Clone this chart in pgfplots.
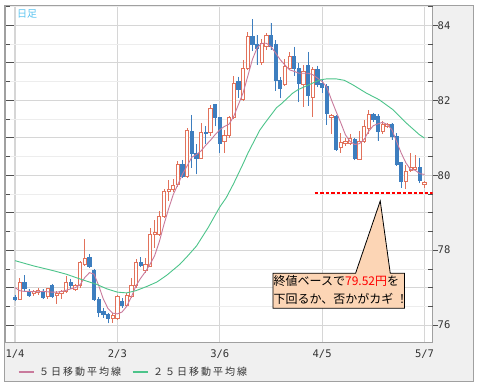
\documentclass[border=0pt]{standalone}
\usepackage{fontspec}
\usepackage{pgfplots}
\pgfplotsset{compat=1.18}
\usepgfplotslibrary{statistics}
\usetikzlibrary{calc}
\pgfdeclarelayer{background}
\pgfsetlayers{background,main}
\setmainfont{Noto Sans CJK JP}
\newfontfamily\tickfam{DejaVu Sans Mono}
\newfontfamily\legendfam[LetterSpace=20]{Noto Sans CJK JP}
\newcommand\tickfont{\tickfam\fontsize{10.5bp}{12bp}\selectfont}
\newcommand\legendfont{\legendfam\fontsize{10bp}{12bp}\selectfont}
\newcommand\calloutfont{\fontsize{12bp}{14bp}\selectfont}
\definecolor{upc}{HTML}{E2725B}
\definecolor{dnc}{HTML}{3D7EBF}
\definecolor{pinkc}{HTML}{C97A9C}
\definecolor{greenc}{HTML}{4CC48A}
\definecolor{panel}{HTML}{F0F0F0}
\definecolor{bordergray}{HTML}{A0A0A0}
\definecolor{gridmaj}{HTML}{D6D6D6}
\definecolor{gridmin}{HTML}{EDEDED}
\definecolor{tickgray}{HTML}{505050}
\definecolor{txt}{HTML}{333333}
\definecolor{peach}{HTML}{FCD5B5}
\definecolor{skyc}{HTML}{5CC4F0}
\definecolor{lvl}{HTML}{FF0000}
\pgfplotsset{
  upcandle/.style={forget plot, draw=upc, fill=white, line width=0.8bp, solid},
  downcandle/.style={forget plot, draw=dnc, fill=dnc, line width=0.8bp, solid},
}
% #1 index, #2 open, #3 high, #4 low, #5 close
\newcommand{\U}[5]{\addplot[upcandle, boxplot prepared={draw position=#1, lower whisker=#4, lower quartile=#2, median=#2, upper quartile=#5, upper whisker=#3}] coordinates {};}
\newcommand{\D}[5]{\addplot[downcandle, boxplot prepared={draw position=#1, lower whisker=#4, lower quartile=#5, median=#5, upper quartile=#2, upper whisker=#3}] coordinates {};}
\begin{document}
\begin{tikzpicture}[x=1bp,y=1bp]
\begin{axis}[
  name=main,
  scale only axis, width=427.5bp, height=337bp,
  at={(0,0)}, anchor=south west,
  xmin=-2.146, xmax=89.72, ymin=75.55, ymax=84.54,
  axis background/.style={fill=white},
  axis line style={draw=bordergray, line width=0.8bp},
  xtick={0,22,44,66,88}, xticklabels={1/4,2/3,3/6,4/5,5/7},
  xtick style={draw=none},
  xticklabel style={font=\tickfont, text=txt, anchor=base, inner sep=0pt, yshift=-15bp},
  ytick={76,77,...,84}, minor ytick={75.5,76.5,...,84.5},
  ytick pos=left, yticklabels={},
  tick align=inside, major tick length=9bp, minor tick length=5bp,
  ytick style={draw=tickgray, line width=0.8bp},
  xmajorgrids, ymajorgrids, yminorgrids,
  major grid style={draw=gridmaj, line width=1.2bp},
  minor grid style={draw=gridmin, line width=0.8bp},
  boxplot/draw direction=y, boxplot/box extend=0.7, boxplot/whisker extend=0,
  /pgf/number format/assume math mode=true,
  legend style={at={(axis description cs:0.0304,-0.089)}, anchor=west, draw=none, fill=none,
    inner sep=0pt, outer sep=0pt, font=\legendfont, text=txt, legend columns=2,
    column sep=5bp, /tikz/every even column/.append style={column sep=11bp},
    nodes={inner sep=0pt, anchor=west}},
  legend cell align=left,
]
\D{0}{76.75}{76.80}{76.65}{76.69}
\U{1}{76.69}{77.27}{76.66}{77.14}
\D{2}{77.14}{77.33}{76.92}{76.98}
\D{3}{76.91}{76.96}{76.75}{76.80}
\U{4}{76.84}{76.95}{76.78}{76.89}
\U{5}{76.86}{77.00}{76.80}{76.93}
\D{6}{76.89}{76.96}{76.69}{76.74}
\U{7}{76.76}{77.00}{76.70}{76.98}
\D{8}{77.06}{77.10}{76.72}{76.76}
\U{9}{76.78}{76.92}{76.56}{76.85}
\U{10}{76.84}{76.95}{76.70}{76.89}
\U{11}{76.91}{77.31}{76.85}{77.14}
\D{12}{77.14}{77.24}{76.96}{77.05}
\U{13}{76.94}{77.10}{76.92}{77.05}
\U{14}{77.05}{77.71}{77.00}{77.67}
\U{15}{77.62}{78.31}{77.58}{77.77}
\D{16}{77.80}{77.89}{77.52}{77.56}
\D{17}{77.47}{77.50}{76.65}{76.69}
\D{18}{76.69}{76.75}{76.21}{76.34}
\D{19}{76.36}{76.47}{76.20}{76.29}
\D{20}{76.29}{76.33}{76.05}{76.18}
\U{21}{76.19}{76.33}{76.05}{76.25}
\U{22}{76.18}{76.80}{76.15}{76.76}
\D{23}{76.62}{76.72}{76.47}{76.53}
\U{24}{76.52}{76.85}{76.48}{76.79}
\U{25}{76.76}{77.26}{76.74}{77.05}
\U{26}{77.05}{77.77}{77.00}{77.68}
\D{27}{77.67}{77.81}{77.55}{77.60}
\U{28}{77.45}{77.78}{77.40}{77.62}
\U{29}{77.57}{78.60}{77.55}{78.43}
\U{30}{78.42}{78.80}{78.05}{78.47}
\U{31}{78.42}{79.05}{78.38}{78.90}
\U{32}{78.90}{79.62}{78.87}{79.56}
\U{33}{79.56}{79.88}{79.30}{79.62}
\U{34}{79.63}{79.90}{79.55}{79.72}
\U{35}{79.75}{80.38}{79.69}{80.28}
\D{36}{80.28}{80.40}{79.93}{79.98}
\U{37}{79.97}{81.25}{79.93}{81.20}
\D{38}{81.17}{81.61}{80.20}{80.59}
\D{39}{80.59}{80.82}{80.02}{80.46}
\U{40}{80.46}{81.40}{80.42}{81.13}
\D{41}{81.15}{81.30}{80.82}{81.11}
\U{42}{81.13}{81.87}{81.05}{81.79}
\D{43}{81.88}{81.90}{81.30}{81.53}
\D{44}{81.53}{81.55}{80.59}{80.86}
\U{45}{80.89}{81.21}{80.59}{81.06}
\U{46}{81.05}{81.58}{81.00}{81.55}
\U{47}{81.55}{82.65}{81.50}{82.46}
\D{48}{82.50}{82.63}{82.06}{82.30}
\U{49}{82.01}{83.08}{81.99}{82.86}
\U{50}{82.86}{83.83}{82.80}{83.70}
\D{51}{83.70}{84.16}{83.30}{83.50}
\D{52}{83.50}{83.75}{82.95}{83.38}
\U{53}{83.02}{83.62}{82.95}{83.52}
\U{54}{83.43}{83.80}{83.35}{83.72}
\D{55}{83.74}{84.07}{83.34}{83.43}
\D{56}{83.48}{83.60}{82.25}{82.54}
\D{57}{82.54}{82.62}{82.05}{82.32}
\U{58}{82.41}{83.10}{82.38}{82.90}
\U{59}{82.86}{83.28}{82.80}{83.18}
\D{60}{83.18}{83.42}{82.65}{82.86}
\D{61}{82.86}{83.00}{81.95}{82.45}
\U{62}{82.41}{82.95}{81.83}{82.77}
\D{63}{82.94}{83.29}{81.85}{82.12}
\U{64}{82.08}{82.88}{81.55}{82.81}
\D{65}{82.81}{82.92}{82.35}{82.41}
\D{66}{82.44}{82.55}{82.20}{82.35}
\D{67}{82.37}{82.42}{81.35}{81.66}
\U{68}{81.53}{81.62}{81.11}{81.59}
\D{69}{81.57}{81.60}{80.65}{80.70}
\U{70}{80.73}{81.13}{80.59}{80.88}
\U{71}{80.84}{81.00}{80.77}{80.90}
\U{72}{80.86}{81.10}{80.80}{80.97}
\D{73}{80.95}{81.00}{80.40}{80.46}
\U{74}{80.43}{81.17}{80.40}{80.90}
\U{75}{80.90}{81.46}{80.85}{81.29}
\U{76}{81.26}{81.74}{81.10}{81.61}
\D{77}{81.61}{81.66}{81.43}{81.50}
\D{78}{81.57}{81.62}{80.92}{81.17}
\U{79}{81.17}{81.45}{81.10}{81.35}
\U{80}{81.29}{81.40}{81.25}{81.35}
\D{81}{81.35}{81.40}{80.95}{81.04}
\D{82}{81.04}{81.12}{80.25}{80.28}
\D{83}{80.33}{80.36}{79.67}{79.84}
\U{84}{79.84}{80.28}{79.64}{80.11}
\U{85}{80.13}{80.60}{80.08}{80.20}
\U{86}{80.15}{80.55}{80.10}{80.20}
\D{87}{80.20}{80.46}{79.79}{79.86}
\U{88}{79.75}{79.84}{79.66}{79.80}
% 5-day moving average
\addplot[color=pinkc, line width=0.9bp,
  legend image code/.code={\draw[draw=pinkc, line width=1.1bp] (0bp,0bp) -- (15bp,0bp);}] coordinates {
(0,77.00) (1,76.92) (2,76.90) (3,76.90) (4,76.89) (5,76.89) (6,76.90) (7,76.89) (8,76.88) (9,76.88)
(10,76.90) (11,76.93) (12,76.97) (13,77.00) (14,77.08) (15,77.27) (16,77.40) (17,77.36) (18,77.05) (19,76.69)
(20,76.44) (21,76.32) (22,76.30) (23,76.35) (24,76.50) (25,76.75) (26,77.05) (27,77.25) (28,77.42) (29,77.62)
(30,77.85) (31,78.22) (32,78.68) (33,79.10) (34,79.48) (35,79.75) (36,80.03) (37,80.25) (38,80.48) (39,80.55)
(40,80.65) (41,80.80) (42,80.93) (43,81.08) (44,81.21) (45,81.30) (46,81.36) (47,81.57) (48,81.88) (49,82.19)
(50,82.63) (51,83.08) (52,83.39) (53,83.52) (54,83.52) (55,83.43) (56,83.26) (57,83.08) (58,82.94) (59,82.81)
(60,82.77) (61,82.72) (62,82.72) (63,82.72) (64,82.68) (65,82.59) (66,82.50) (67,82.35) (68,82.01) (69,81.70)
(70,81.40) (71,81.08) (72,80.90) (73,80.82) (74,80.84) (75,80.95) (76,81.17) (77,81.32) (78,81.37) (79,81.41)
(80,81.35) (81,81.21) (82,80.90) (83,80.59) (84,80.33) (85,80.15) (86,80.13) (87,80.04) (88,80.02)};
\addlegendentry{５日移動平均線}
% 25-day moving average
\addplot[color=greenc, line width=0.9bp,
  legend image code/.code={\draw[draw=greenc, line width=1.1bp] (0bp,0bp) -- (15bp,0bp);}] coordinates {
(0,77.72) (4,77.58) (8,77.46) (11,77.36) (14,77.23) (17.5,77.09) (19.7,76.97) (22,76.88) (24,76.86) (26,76.92)
(28.3,77.03) (30.5,77.15) (32.6,77.33) (35.4,77.62) (37,77.83) (39,78.11) (41.5,78.60) (44,79.15) (45.4,79.40)
(47,79.78) (49,80.30) (50.1,80.60) (52.6,81.20) (53.7,81.39) (56.2,81.80) (57.2,81.90) (59.7,82.19) (60.8,82.28)
(63.3,82.42) (65.5,82.54) (67,82.57) (69,82.57) (70.8,82.53) (72.6,82.41) (75.5,82.19) (78.3,82.01) (81.2,81.75)
(84.1,81.39) (86.9,81.08) (88,80.99)};
\addlegendentry{２５日移動平均線}
% callout
\filldraw[fill=peach, draw=black, line width=0.8bp]
  (axis cs:55.44,77.384) -- (axis cs:73.19,77.384) -- (axis cs:78.49,79.312) -- (axis cs:80.64,77.384)
  -- (axis cs:83.71,77.384) -- (axis cs:83.71,76.451) -- (axis cs:55.44,76.451) -- cycle;
\node[anchor=base west, inner sep=0pt, font=\calloutfont] at (axis cs:55.55,77.064) {終値ベースで\textcolor{lvl}{79.52円}を};
\node[anchor=base west, inner sep=0pt, font=\calloutfont] at (axis cs:55.55,76.579) {下回るか、否かがカギ ！};
% level line at 79.52
\draw[red, line width=1.4bp, dashed, dash pattern=on 3.5bp off 2bp] (axis cs:64.4,79.52) -- (axis cs:89.72,79.52);
\end{axis}
\begin{axis}[
  scale only axis, width=427.5bp, height=337bp,
  at={(main.south west)}, anchor=south west,
  xmin=-2.146, xmax=89.72, ymin=75.55, ymax=84.54,
  axis x line=none, axis y line*=right, axis line style={draw=none},
  ytick={76,78,80,82,84},
  tick align=outside, major tick length=5bp,
  extra y ticks={76.5,77,77.5,78.5,79,79.5,80.5,81,81.5,82.5,83,83.5,84.5},
  extra y tick labels={},
  extra y tick style={tick align=inside},
  ytick style={draw=tickgray, line width=0.8bp},
  yticklabel style={font=\tickfont, text=txt, anchor=west, inner sep=0pt},
  /pgf/number format/assume math mode=true,
]
\addplot[draw=none, forget plot] coordinates {(0,80)};
\end{axis}
\begin{scope}[shift={(main.south west)}, xshift=-5bp, yshift=-45bp]
  \begin{pgfonlayer}{background}
    \fill[white] (0,0) rectangle (478,387);
    \filldraw[fill=panel, draw=bordergray, line width=1bp] (5,6) rectangle (473,382);
  \end{pgfonlayer}
  \draw[bordergray, line width=2bp] (5,45) -- (5,382);
  \draw[bordergray, line width=1bp] (5,382) -- (473,382);
  \node[anchor=base west, inner sep=0pt, text=skyc, font=\fontsize{10bp}{12bp}\selectfont] at (17,370) {日足};
\end{scope}
\pgfresetboundingbox
\path[use as bounding box] ($(main.south west)+(-5bp,-45bp)$) rectangle ++(478bp,387bp);
\end{tikzpicture}
\end{document}
